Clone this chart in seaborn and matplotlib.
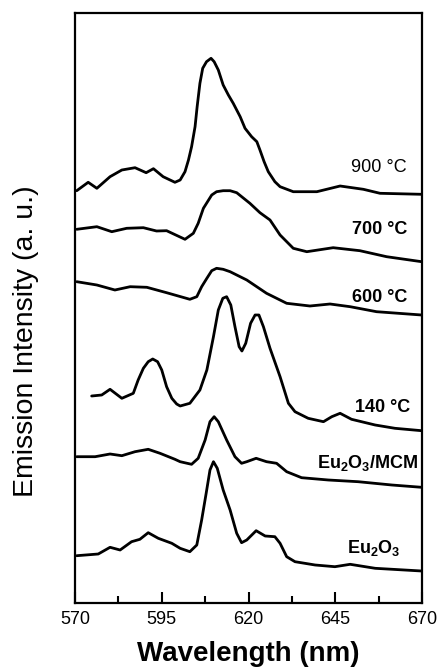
import matplotlib
matplotlib.use('Agg')
import matplotlib.pyplot as plt
import seaborn as sns
import numpy as np
import pandas as pd

sns.set_style('ticks')
plt.rcParams['font.family'] = ['Liberation Sans', 'DejaVu Sans']
plt.rcParams['mathtext.default'] = 'regular'
for key in ['text.color', 'axes.labelcolor', 'xtick.color', 'ytick.color', 'axes.edgecolor']:
    plt.rcParams[key] = 'black'

# emission spectra (wavelength in nm, intensity in a.u. with offsets)
wl_900 = [570.5, 573.8, 576.3, 580.1, 583.5, 587.3, 590.5, 592.6, 595.4, 598.8, 600.3, 601.7, 602.7,
          603.6, 604.6, 605.2, 606.0, 606.8, 607.9, 609.2, 610.1, 611.3, 612.7, 614.2, 615.6, 617.6,
          619.0, 620.9, 622.4, 623.3, 624.5, 625.7, 627.6, 629.1, 632.9, 639.7, 646.4, 653.1, 657.9,
          669.9]
int_900 = [412.3, 420.7, 414.7, 426.3, 433.0, 435.3, 430.3, 434.3, 426.3, 420.7, 423.0, 431.3, 443.0,
           456.3, 476.3, 496.3, 519.7, 534.7, 541.3, 544.7, 541.3, 533.0, 518.0, 508.0, 499.7, 486.3,
           474.7, 466.3, 461.3, 453.0, 441.3, 431.3, 421.3, 416.3, 411.3, 411.3, 417.0, 413.7, 409.7,
           408.7]

wl_700 = [570.5, 576.3, 580.6, 584.9, 589.7, 593.5, 596.4, 601.7, 604.1, 605.5, 607.0, 609.4, 610.8,
          612.7, 614.7, 616.6, 620.4, 623.3, 626.2, 629.1, 632.9, 636.8, 644.4, 652.1, 659.8, 669.9]
int_700 = [373.7, 376.3, 371.3, 374.7, 375.3, 372.0, 372.3, 363.7, 369.7, 379.7, 394.7, 408.0, 411.3,
           412.3, 412.3, 410.3, 399.7, 390.3, 383.0, 368.0, 354.7, 351.3, 355.3, 352.3, 346.3, 341.3]

wl_600 = [570.5, 576.3, 581.5, 585.9, 590.7, 596.4, 603.1, 605.1, 606.5, 608.0, 609.4, 610.8, 612.7,
          614.7, 619.5, 625.2, 631.0, 637.7, 643.5, 649.3, 656.9, 669.9]
int_600 = [321.3, 318.0, 313.0, 316.3, 315.7, 310.3, 303.7, 306.3, 316.3, 324.7, 332.3, 334.7, 333.7,
           331.3, 323.0, 309.7, 299.7, 297.0, 299.0, 296.3, 291.3, 288.0]

wl_140 = [574.8, 577.7, 580.1, 583.5, 586.8, 588.2, 589.7, 591.1, 592.4, 593.8, 595.0, 596.4, 597.9,
          599.3, 600.3, 603.1, 606.0, 608.0, 609.9, 611.3, 612.6, 613.7, 614.9, 616.1, 617.3, 618.1,
          619.2, 620.6, 621.9, 623.0, 624.3, 626.2, 629.1, 631.5, 633.4, 637.2, 641.6, 644.0, 646.4,
          649.7, 656.5, 662.2, 669.9]
int_140 = [207.0, 208.0, 213.7, 204.7, 209.7, 223.0, 234.7, 241.3, 244.0, 241.3, 233.0, 216.3, 204.7,
           199.0, 197.0, 199.7, 213.0, 233.0, 266.3, 293.0, 304.7, 306.3, 298.0, 276.3, 256.3, 252.0,
           259.7, 279.7, 288.0, 288.0, 276.3, 254.7, 226.3, 199.7, 191.3, 184.7, 181.3, 186.3, 189.7,
           183.7, 178.0, 174.7, 172.3]

wl_mcm = [570.5, 575.8, 580.1, 583.5, 587.3, 591.1, 594.5, 598.8, 600.3, 603.6, 605.5, 607.5, 608.9,
          610.1, 611.3, 613.7, 616.1, 618.0, 619.5, 622.2, 625.2, 628.1, 631.0, 635.3, 643.0, 651.6,
          661.3, 669.9]
int_mcm = [146.3, 146.3, 149.0, 147.3, 151.3, 153.7, 149.7, 143.7, 141.3, 138.7, 144.7, 163.0, 181.3,
           186.3, 181.3, 163.0, 146.3, 139.7, 141.3, 144.7, 141.3, 139.7, 131.3, 125.3, 123.0, 121.3,
           118.0, 115.7]

wl_eu = [570.5, 576.7, 580.1, 583.0, 586.3, 588.7, 591.1, 594.0, 597.9, 600.3, 603.1, 605.1, 606.5,
         607.8, 608.9, 609.9, 611.0, 612.7, 614.7, 616.6, 618.0, 619.5, 622.2, 624.8, 627.6, 629.1,
         631.0, 633.4, 639.2, 644.9, 649.3, 656.5, 669.9]
int_eu = [47.3, 49.0, 55.7, 53.0, 61.3, 63.7, 70.3, 64.7, 59.7, 54.7, 51.3, 58.0, 83.0,
          109.7, 133.0, 141.3, 134.7, 113.0, 93.0, 69.7, 60.3, 63.0, 72.3, 67.0, 66.3, 59.7,
          46.3, 41.3, 38.0, 36.3, 38.7, 34.7, 32.0]

samples = ['900', '700', '600', '140', 'mcm', 'eu']
labels = ['900 °C', '700 °C', '600 °C', '140 °C', 'Eu$_2$O$_3$/MCM', 'Eu$_2$O$_3$']
label_x = [665.7, 665.7, 665.7, 666.5, 668.8, 663.7]
label_y = [436, 373, 305, 196, 140, 55]
label_weight = ['normal', 'bold', 'bold', 'bold', 'bold', 'bold']

frames = []
for name, wl, inten in [('900', wl_900, int_900), ('700', wl_700, int_700),
                        ('600', wl_600, int_600), ('140', wl_140, int_140),
                        ('mcm', wl_mcm, int_mcm), ('eu', wl_eu, int_eu)]:
    frames.append(pd.DataFrame({'wavelength': wl, 'intensity': inten, 'sample': name}))
df = pd.concat(frames, ignore_index=True)

fig = plt.figure(figsize=(4.38, 6.71), dpi=100)
ax = fig.add_axes([75 / 438, 68 / 671, 347 / 438, 590 / 671])

for name in samples:
    sub = df[df['sample'] == name]
    sns.lineplot(data=sub, x='wavelength', y='intensity', ax=ax, color='black',
                 linewidth=2.0, sort=False, estimator=None, legend=False,
                 solid_joinstyle='round', solid_capstyle='round')

for txt, lx, ly, w in zip(labels, label_x, label_y, label_weight):
    ax.text(lx, ly, txt, ha='right', va='center', fontsize=13, fontweight=w)

ax.set_xlim(570, 670)
ax.set_ylim(0, 590)
ax.set_xticks([570, 595, 620, 645, 670])
ax.set_xticks(np.arange(570, 671, 12.5), minor=True)
ax.set_yticks([])
ax.tick_params(axis='x', which='major', direction='in', length=8, width=1.5, labelsize=13, pad=6)
ax.tick_params(axis='x', which='minor', direction='in', length=5, width=1.5)
for sp in ax.spines.values():
    sp.set_linewidth(1.6)
    sp.set_visible(True)

ax.set_xlabel('Wavelength (nm)', fontsize=20, fontweight='bold')
ax.xaxis.set_label_coords(0.5, -0.064)
ax.set_ylabel('Emission Intensity (a. u.)', fontsize=20.5)
ax.yaxis.set_label_coords(-0.104, 0.444)

fig.savefig('out.png', dpi=100)
